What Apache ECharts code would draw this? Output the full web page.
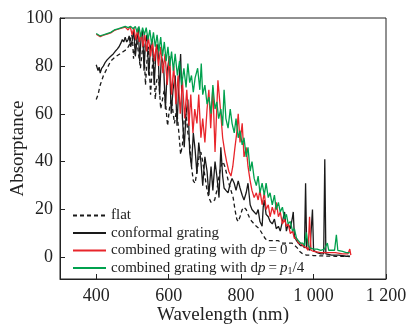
<!DOCTYPE html>
<html>
<head>
<meta charset="utf-8">
<script src="https://cdn.jsdelivr.net/npm/echarts@6/dist/echarts.min.js"></script>
<style>
html,body{margin:0;padding:0;background:#fff;}
#c{width:408px;height:324px;}
</style>
</head>
<body>
<div id="c"></div>
<script>
// ---- data (wavelength in nm, absorptance in %) ----
var xTicks = [400, 600, 800, 1000, 1200];
var yTicks = [0, 20, 40, 60, 80, 100];
var seriesNames = ['flat', 'conformal grating', 'combined grating with dp=0', 'combined grating with dp=p1/4'];

var flatWl = [400,405,411,420,430,440,447,455,465,475,485,492,497,500,503,507,511,516,522,527,531,536,540,544,550,554,558,563,567,572,578,583,588,592,597,602,607,611,616,622,627,633,638,643,648,653,658,663,668,673,678,684,689,694,700,706,711,717,722,727,733,739,744,750,755,760,766,772,778,783,788,792,797,803,808,814,819,825,830,836,842,850,858,866,872,878,886,895,903,912,920,930,940,948,955,962,970,980,990,1000,1030,1060,1100];
var flatAbs = [66,68,72,76,79,82,83,84,85,86,87,89,93,92,83,88,92,86,79,86,90,72,82,88,68,78,85,66,74,76,62,66,70,70,55,62,66,62,56,62,54,43,47,58,60,52,48,38,32,31,36,42,44,40,34,28,25,23,22.6,24,28,34,38,40,38,35,31,28,25,20,16,15,17,20,21,20,18,16,15,14,13,12,10,8,7,7,7,7,7,6,6,6,6,5,4,2.5,1.5,1,1,0.8,0.6,0.5,0.4];

var confWl = [400,405,408,411,415,420,425,430,435,440,447,452,458,463,468,472,476,480,484,488,491,495,500,504,508,512,516,520,524,528,532,536,540,545,550,555,560,565,570,575,580,586,591,596,602,607,612,618,623,628,633,638,643,648,653,658,663,668,673,678,683,689,694,700,706,711,717,722,728,733,739,744,749,753,758,764,770,775,781,786,792,797,803,808,814,819,825,830,836,842,847,852,858,861,864,869,875,880,886,892,897,903,908,914,920,925,930,936,942,944,947,953,958,964,970,975,978,981,990,997,1000,1010,1020,1028,1031,1034,1050,1070,1090,1100];
var confAbs = [80.5,78,79.5,77,79,80,81.5,82.5,83,84,85,86,87,88,89.5,91,90,92,90,91,92.5,88,91,95,84,90,96,82,92,95,78,90,93,76,88,91,72,86,89,68,84,80,62,78,84,60,70,76,55,72,85,58,46,60,66,44,38,52,45,35,48,40,30,42,36,26,38,28,40,34,25,46,34,29,28,27,31,33,31,28,32,29,26,24,27,31,22,20,19,18,20,15,13,21,24,18,17,15,14,16,12,13,11,15,19,11,14,12,17,19,9,7,6,5,5,4,31,4,3,20,3,2,1.5,1.5,41,1.5,1,1,0.5,0.5];

var redWl = [400,411,420,430,440,450,460,470,480,488,494,499,504,509,514,519,524,529,534,539,544,550,555,561,566,572,578,584,590,596,602,608,614,620,626,632,638,644,650,656,661,667,672,678,683,689,694,700,706,711,716,722,728,736,744,749,755,760,766,772,777,783,788,792,797,803,808,814,819,825,830,836,842,847,852,858,864,869,875,880,886,892,897,903,908,914,920,925,930,936,942,947,953,958,964,970,975,980,985,989,993,1000,1020,1040,1060,1080,1095,1100,1103];
var redAbs = [93.2,92.2,92.8,93.3,93.8,94.8,95.3,95.8,96.2,95,96.5,93,96,91,95,90,94,88,93,86,92,84,90,82,89,80,88,77,85,72,84,68,80,64,76,60,74,58,70,55,68,52,62,56,68,50,58,48,62,70,54,71,44,74,60,50,44,40,36,34,38,46,52,60,48,56,42,46,38,32,28,25,27,24,28,22,27,20,22,17,21,18,23,17,19,14,16,13,14,10,11,8,8,6,6,5,5,4,3,17,3,2.5,2,2,2,1.5,1.5,3.5,1];

var greenWl = [400,405,411,420,430,440,450,460,470,480,488,495,502,508,513,518,523,528,533,538,543,548,553,558,563,568,573,578,583,588,593,598,603,608,613,618,624,630,636,642,648,653,658,663,668,673,680,686,690,694,700,706,711,717,722,728,733,738,744,749,753,758,764,770,775,781,786,792,797,803,808,814,819,825,830,836,842,847,852,858,864,869,875,880,886,892,897,903,908,914,920,925,930,936,942,947,953,958,964,970,975,980,985,990,1000,1010,1020,1030,1038,1042,1050,1058,1063,1067,1080,1090,1100];
var greenAbs = [93.5,93,92.5,93,93.5,94,95,95.5,96,96.5,96,96.5,95.5,96.5,94,96.5,92,96,93,96,91,95,89,94,88,93,86,92,84,90,82,88,80,86,78,85,76,82,72,79,71,81,73,76,69,75,79,70,81,68,72,64,67,60,72,62,65,58,62,55,70,58,54,62,56,52,58,50,53,47,50,42,46,36,40,33,30,34,27,31,26,31,25,27,22,26,20,23,19,21,16,18,14,15,11,12,8,7,6,6,5,10.5,5,4,3.5,3.5,3,3.5,6,3,3,3,9.5,3,2.5,2,2];

function pairs(xs, ys) { return xs.map(function (x, i) { return [x, ys[i]]; }); }

var FONT = 'Liberation Serif';
var chart = echarts.init(document.getElementById('c'), null, {renderer: 'canvas'});

function mkLine(name, xs, ys, color, type, z) {
  return {
    name: name, type: 'line', data: pairs(xs, ys),
    showSymbol: false, symbol: 'none', z: z,
    lineStyle: {color: color, width: 1.3, type: type},
    itemStyle: {color: color},
    animation: false
  };
}

chart.setOption({
  backgroundColor: '#fff',
  animation: false,
  grid: {left: 60, right: 22, top: 18, bottom: 45, containLabel: false, outerBoundsMode: 'none',
    show: true, borderColor: '#222', borderWidth: 1, backgroundColor: 'transparent'},
  legend: {
    left: 67, top: 203, orient: 'vertical',
    itemWidth: 33, itemHeight: 14, itemGap: 2.5,
    itemStyle: {opacity: 0},
    textStyle: {fontFamily: FONT, fontSize: 15, color: '#222', lineHeight: 15,
      rich: {
        i: {fontFamily: FONT, fontSize: 15, fontStyle: 'italic', color: '#222'},
        s: {fontFamily: FONT, fontSize: 10, color: '#222', padding: [6, 0, 0, 0]}
      }},
    data: seriesNames,
    formatter: function (n) {
      if (n === seriesNames[2]) return 'combined grating with d{i|p}\u2009=\u20090';
      if (n === seriesNames[3]) return 'combined grating with d{i|p}\u2009=\u2009{i|p}{s|1}/4';
      return n;
    }
  },
  xAxis: {
    type: 'value', min: 300, max: 1200,
    name: 'Wavelength (nm)', nameLocation: 'middle', nameGap: 27, nameMoveOverlap: false,
    nameTextStyle: {fontFamily: FONT, fontSize: 19, color: '#222'},
    axisLine: {onZero: false, lineStyle: {color: '#222', width: 1}},
    axisTick: {inside: true, length: 5, lineStyle: {color: '#222'}, customValues: xTicks},
    axisLabel: {fontFamily: FONT, fontSize: 18, color: '#222', margin: 8, customValues: xTicks,
      formatter: function (v) { return v >= 1000 ? String(v).replace(/(\d)(\d{3})$/, '$1 $2') : String(v); }},
    splitLine: {show: false}
  },
  yAxis: {
    type: 'value', min: -9, max: 100,
    name: 'Absorptance', nameLocation: 'middle', nameGap: 32, nameMoveOverlap: false,
    nameTextStyle: {fontFamily: FONT, fontSize: 19, color: '#222'},
    axisLine: {show: true, onZero: false, lineStyle: {color: '#222', width: 1}},
    axisTick: {show: true, inside: true, length: 5, lineStyle: {color: '#222'}, customValues: yTicks},
    axisLabel: {fontFamily: FONT, fontSize: 18, color: '#222', margin: 7, customValues: yTicks},
    splitLine: {show: false}
  },
  series: [
    mkLine(seriesNames[0], flatWl, flatAbs, '#1a1a1a', [4, 3], 2),
    mkLine(seriesNames[1], confWl, confAbs, '#1a1a1a', 'solid', 3),
    mkLine(seriesNames[2], redWl, redAbs, '#e8252b', 'solid', 4),
    mkLine(seriesNames[3], greenWl, greenAbs, '#00a14e', 'solid', 5)
  ]
});
</script>
</body>
</html>
